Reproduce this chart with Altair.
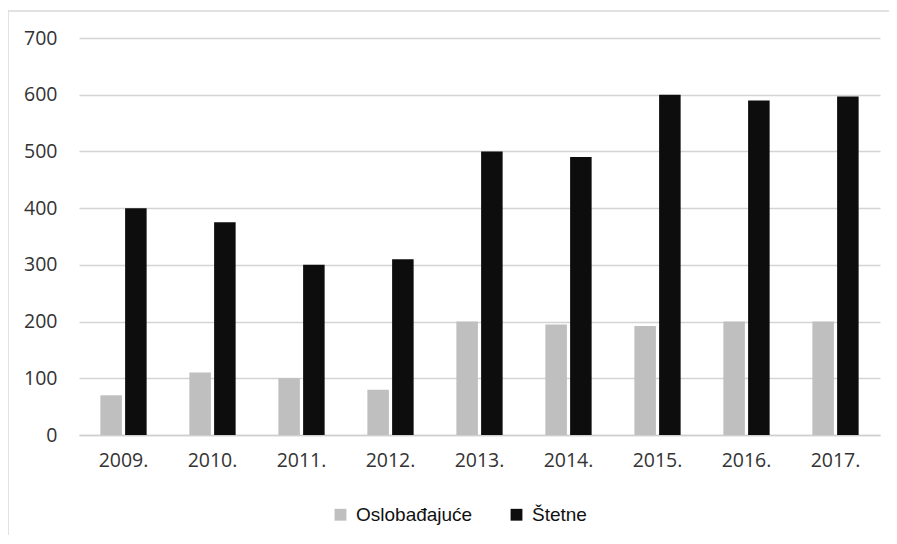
import altair as alt
import pandas as pd

years = ["2009.", "2010.", "2011.", "2012.", "2013.", "2014.", "2015.", "2016.", "2017."]
oslobadjajuce = [70, 110, 100, 80, 200, 195, 192, 200, 200]
stetne = [400, 375, 300, 310, 500, 490, 600, 590, 597]
series = ["Oslobađajuće", "Štetne"]

rows = []
for i, y in enumerate(years):
    rows.append({"year": y, "series": series[0], "value": oslobadjajuce[i]})
    rows.append({"year": y, "series": series[1], "value": stetne[i]})
df = pd.DataFrame(rows)

bars = alt.Chart(df).mark_bar().encode(
    x=alt.X("year:N", sort=years, title=None,
            scale=alt.Scale(paddingInner=0.48, paddingOuter=0.24),
            axis=alt.Axis(labelAngle=0, labelFont="Open Sans", labelFontSize=19.5,
                          labelColor="#333333", labelPadding=16, ticks=False,
                          domain=True, domainColor="#cfcfcf", domainWidth=1.5, grid=False)),
    xOffset=alt.XOffset("series:N", sort=series, scale=alt.Scale(paddingInner=0.13)),
    y=alt.Y("value:Q", title=None,
            scale=alt.Scale(domain=[0, 700]),
            axis=alt.Axis(values=[0, 100, 200, 300, 400, 500, 600, 700], labelFont="Open Sans",
                          labelFontSize=19.5, labelColor="#333333", labelPadding=22,
                          ticks=False, domain=False, gridColor="#d4d4d4", gridWidth=1.5)),
    color=alt.Color("series:N", sort=series,
                    scale=alt.Scale(domain=series, range=["#bfbfbf", "#0d0d0d"]),
                    legend=alt.Legend(title=None, orient="none", direction="horizontal",
                                      legendX=252, legendY=467, symbolType="square",
                                      symbolSize=140, symbolStrokeWidth=0,
                                      labelFont="Liberation Sans", labelFontSize=19,
                                      labelColor="#111111", columnPadding=34, labelOffset=6)),
)

frame = alt.Chart(pd.DataFrame({"a": [0]})).mark_rect(
    fill=None, stroke="#d9d9d9", strokeWidth=1.5
).encode(
    x=alt.value(-71), x2=alt.value(1000), y=alt.value(-27), y2=alt.value(800)
)

chart = alt.layer(bars, frame).properties(
    width=801, height=397,
    autosize=alt.AutoSizeParams(type="none"),
    padding={"left": 71, "top": 30, "right": 9, "bottom": 100},
).configure_view(stroke=None)

chart.save("out.html", embed_options={"renderer": "svg", "actions": False})
